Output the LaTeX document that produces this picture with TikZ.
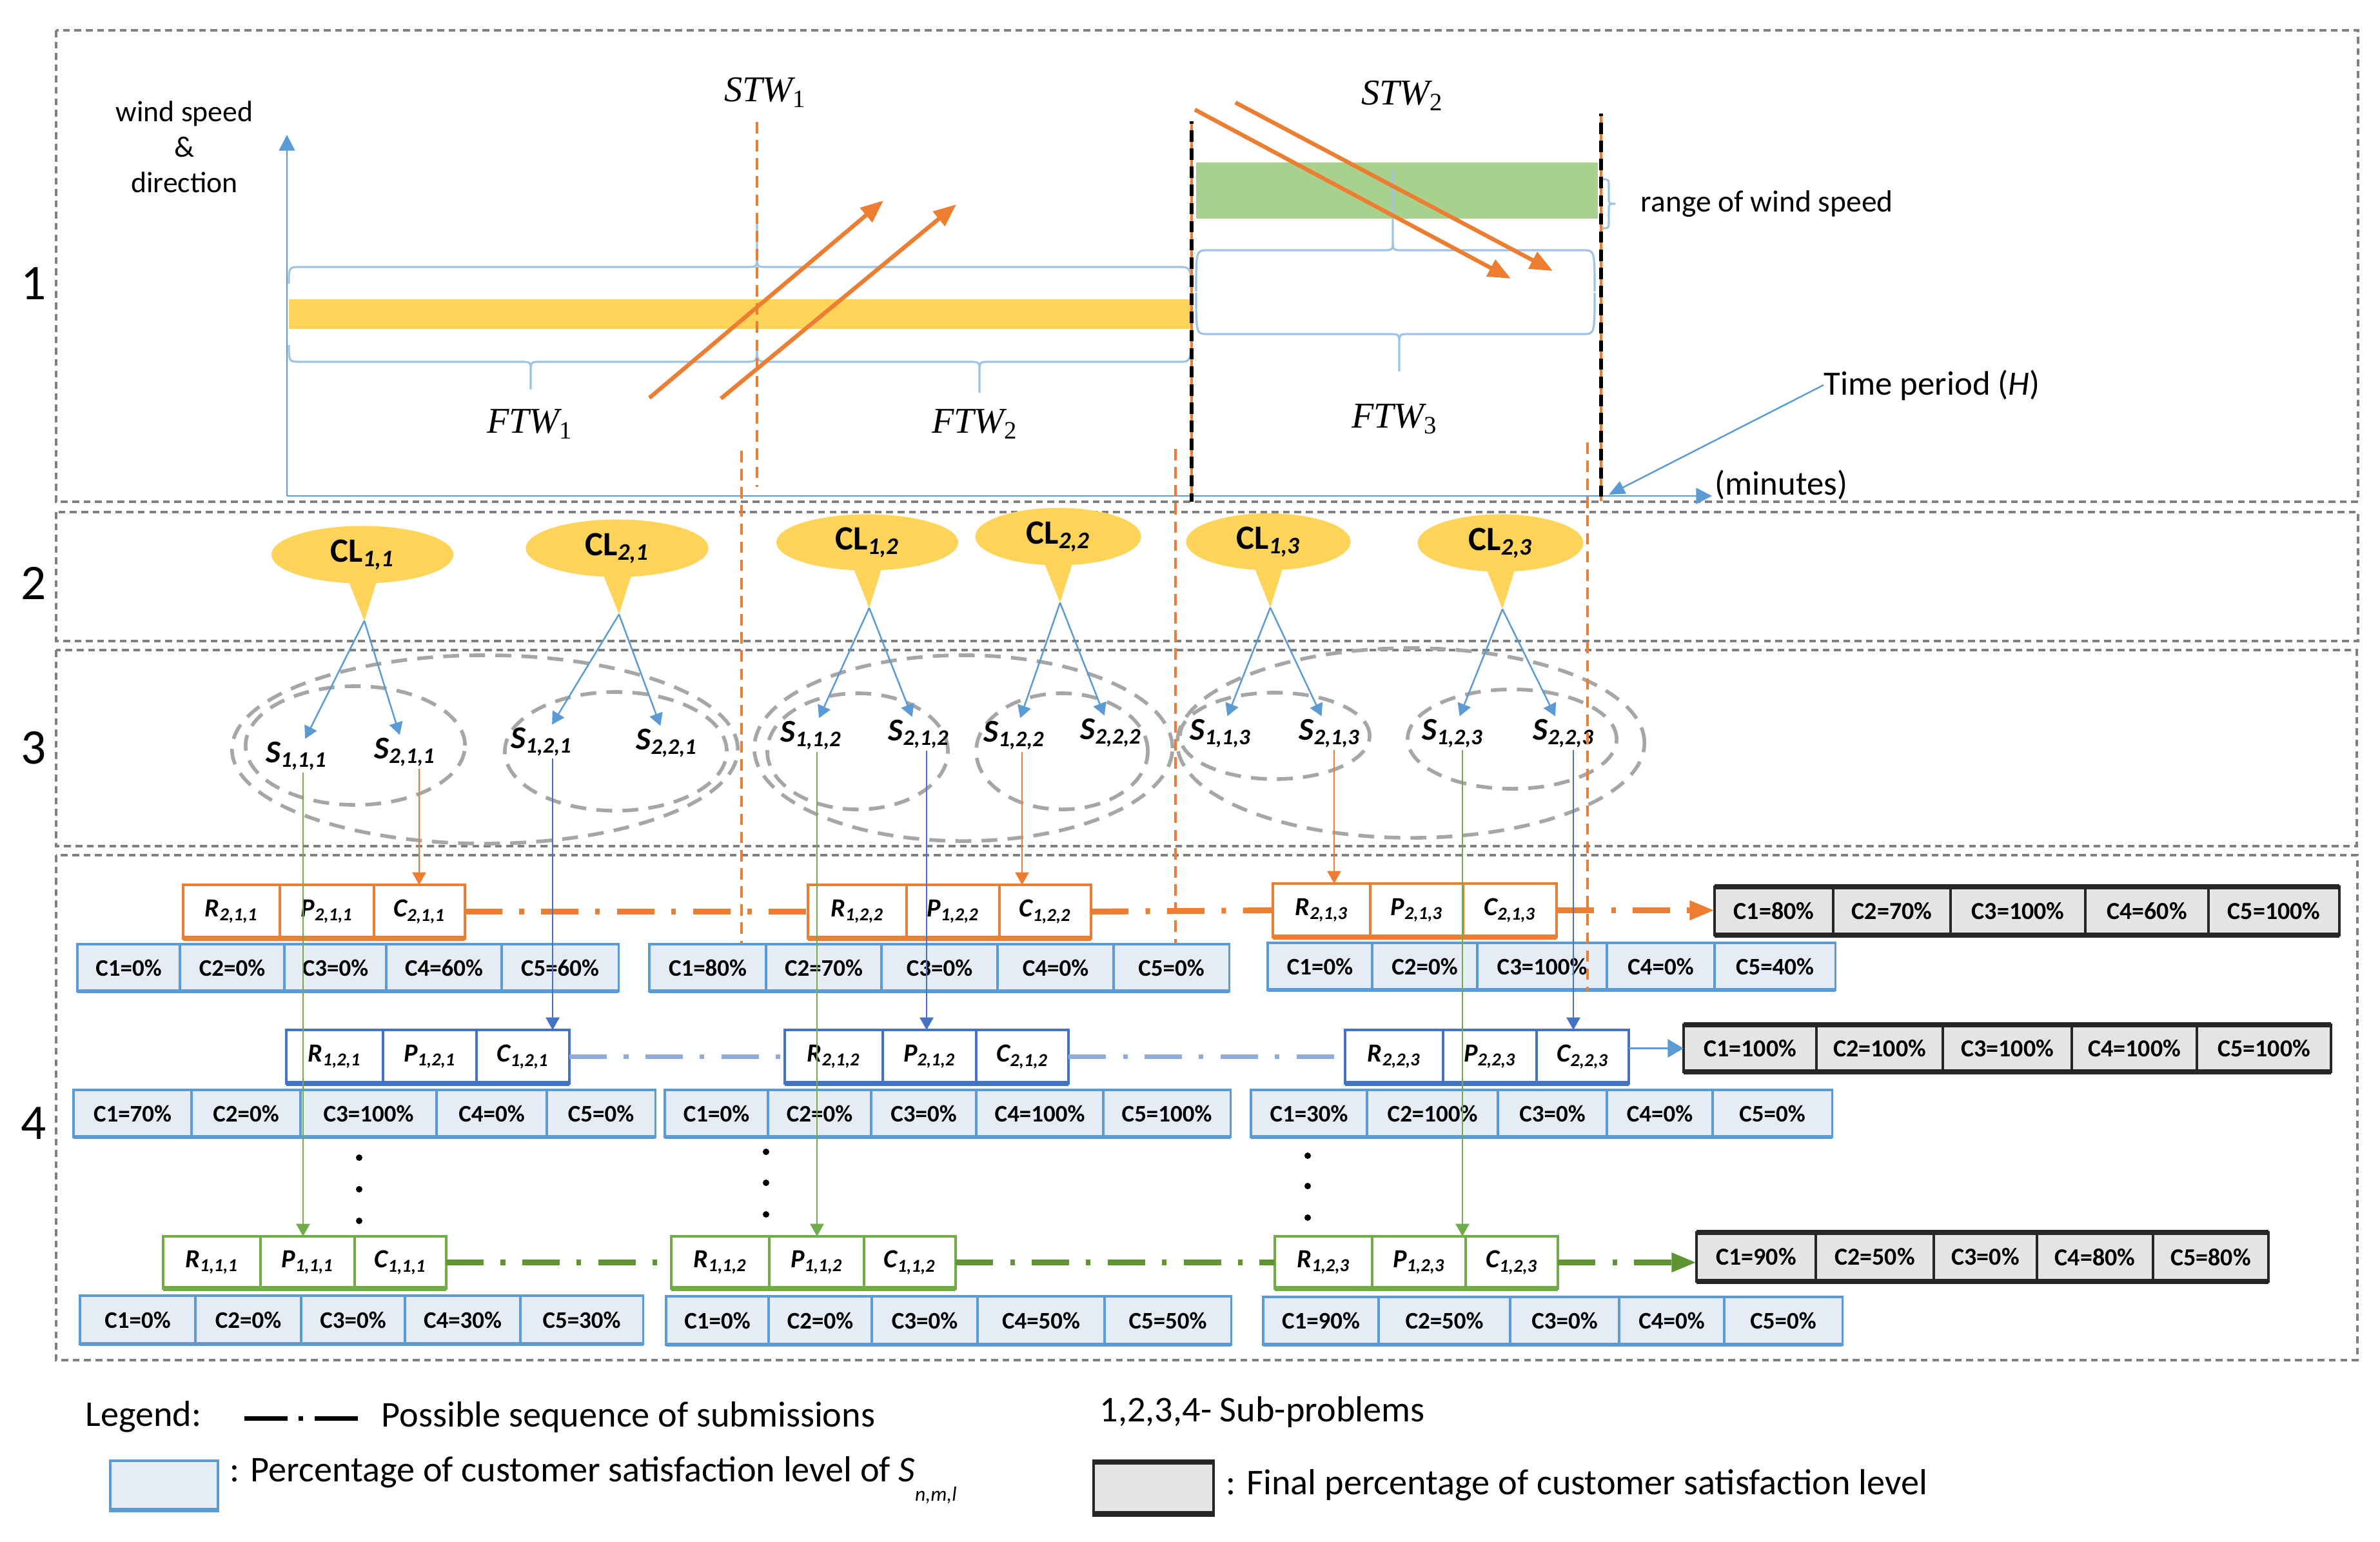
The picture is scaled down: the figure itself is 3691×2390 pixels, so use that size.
\documentclass[tikz,border=0pt]{standalone}
\usepackage{fontspec}
\setmainfont{Carlito}
\newfontfamily\srf{Liberation Serif}
\usetikzlibrary{arrows.meta,calc,shapes.geometric}

\definecolor{gold}{RGB}{255,212,89}
\definecolor{lgreen}{RGB}{169,209,142}
\definecolor{org}{RGB}{237,125,49}
\definecolor{bluA}{RGB}{91,155,213}
\definecolor{bluB}{RGB}{68,114,196}
\definecolor{bluC}{RGB}{143,170,220}
\definecolor{grnA}{RGB}{112,173,71}
\definecolor{grnB}{RGB}{94,148,50}
\definecolor{brcblue}{RGB}{157,195,230}
\definecolor{cfill}{RGB}{230,236,245}
\definecolor{gfill}{RGB}{228,228,228}
\definecolor{secgray}{RGB}{128,128,128}
\definecolor{ellgray}{RGB}{166,166,166}

\tikzset{
 sec/.style={draw=secgray, line width=0.9pt, dash pattern=on 3pt off 2pt},
 ell/.style={draw=ellgray, line width=1.6pt, dash pattern=on 7pt off 4.5pt},
 brc/.style={draw=brcblue, line width=0.9pt},
 wind/.style={draw=org, line width=1.8pt, -{Triangle[length=10pt,width=8pt]}},
 odash/.style={draw=org, line width=0.9pt, dash pattern=on 5pt off 3pt},
 kdash/.style={draw=black, line width=1.5pt, dash pattern=on 5pt off 3pt},
 axis/.style={draw=bluA, line width=0.8pt, -{Triangle[length=7pt,width=7pt]}},
 clnode/.style={ellipse, fill=gold, inner sep=0pt, outer sep=0pt, font=\fontsize{15}{18}\selectfont\bfseries},
 snode/.style={inner sep=1pt, font=\fontsize{14}{16}\selectfont\bfseries\itshape},
 cla/.style={draw=bluA, line width=0.7pt, -{Triangle[length=5.5pt,width=6pt]}},
 vcon/.style={line width=0.7pt, -{Triangle[length=5.5pt,width=6pt]}},
 rpc/.style={draw, line width=1.1pt, fill=white, inner sep=0pt, outer sep=0pt, anchor=north west, font=\fontsize{11.5}{13}\selectfont\bfseries\itshape},
 crow/.style={draw=bluA, line width=0.9pt, fill=cfill, inner sep=0pt, outer sep=0pt, anchor=north west, font=\fontsize{10.5}{12}\selectfont\bfseries},
 frow/.style={draw=black!85, line width=1pt, fill=gfill, inner sep=0pt, outer sep=0pt, anchor=north west, font=\fontsize{10.8}{12}\selectfont\bfseries},
 seq/.style={line width=2.6pt, dash pattern=on 16.5pt off 7.5pt on 2pt off 7.5pt},
 mlab/.style={inner sep=0pt, font=\fontsize{16}{19}\selectfont\srf\itshape},
 numlab/.style={inner sep=0pt, font=\fontsize{22}{26}\selectfont},
 txt/.style={inner sep=0pt, font=\fontsize{15}{18}\selectfont},
 legtxt/.style={inner sep=0pt, anchor=west, font=\fontsize{16}{19}\selectfont},
}

\newcommand\msub[1]{\raisebox{-0.35ex}{\upshape\fontsize{11}{12}\selectfont #1}}

\newcommand\cellrow[5]{%
  \foreach \xl/\xr/\tx [count=\ci] in {#5}{%
    \pgfmathsetmacro\cw{(\xr-\xl)*0.284528}%
    \pgfmathsetmacro\ch{(#4-#3)*0.284528}%
    \node[#2, minimum width=\cw pt, minimum height=\ch pt] (#1\ci) at (\xl,#3) {\tx};
  }}

\newcommand\rpctriple[9]{%
 \pgfmathsetmacro\hh{(#4-#3)*0.284528}%
 \pgfmathsetmacro\wa{(#6-#5)*0.284528}%
 \pgfmathsetmacro\wb{(#7-#6)*0.284528}%
 \pgfmathsetmacro\wc{(#8-#7)*0.284528}%
 \node[rpc,draw=#2,minimum width=\wa pt,minimum height=\hh pt] (#11) at (#5,#3) {R\textsubscript{#9}};
 \node[rpc,draw=#2,minimum width=\wb pt,minimum height=\hh pt] (#12) at (#6,#3) {P\textsubscript{#9}};
 \node[rpc,draw=#2,minimum width=\wc pt,minimum height=\hh pt] (#13) at (#7,#3) {C\textsubscript{#9}};
 \draw[line width=2.4pt,#2] (#11.south west) -- (#13.south east);
}

% x1, x2, y, yend-left, yend-right, xtip, ytip
\newcommand\wbrace[7]{%
 \draw[brc] (#1,#4) .. controls (#1,#3) .. (#1+18,#3) -- (#6-16,#3)
   .. controls (#6,#3) .. (#6,{#3+16*sign(#7-#3)}) -- (#6,#7) -- (#6,{#3+16*sign(#7-#3)})
   .. controls (#6,#3) .. (#6+16,#3) -- (#2-18,#3) .. controls (#2,#3) .. (#2,#5);}

\begin{document}
\begin{tikzpicture}[x=0.01cm,y=-0.01cm]
\fill[white] (0,0) rectangle (3691,2390);
\useasboundingbox (0,0) rectangle (3691,2390);

% ---------- section frames ----------
\draw[sec] (87,47) rectangle (3657,778);
\draw[sec] (87,794) rectangle (3657,994);
\draw[sec] (87,1008) rectangle (3655,1312);
\draw[sec] (87,1326) rectangle (3656,2109);

\node[numlab] (n1) at (52,440) {1};
\node[numlab] (n2) at (52,904) {2};
\node[numlab] (n3) at (52,1160) {3};
\node[numlab] (n4) at (52,1742) {4};

% ---------- section 1 ----------
\fill[gold] (448,464) rectangle (1848,510);
\fill[lgreen] (1855,252) rectangle (2478,339);

\wbrace{448}{1848}{414}{440}{487}{1174}{337}
\wbrace{448}{1174}{561}{535}{535}{823}{604}
\wbrace{1174}{1848}{561}{535}{487}{1519}{609}
\wbrace{1855}{2473}{388}{452}{452}{2160}{263}
\wbrace{1855}{2473}{518}{454}{454}{2170}{576}
\draw[brc] (2485,278) .. controls (2495,278) .. (2495,290) -- (2495,306)
  .. controls (2495,316) .. (2505,316) .. controls (2495,316) .. (2495,326)
  -- (2495,342) .. controls (2495,354) .. (2485,354);

\coordinate (orig) at (445,769);
\coordinate (ytop) at (445,209);
\coordinate (xend) at (2655,769);
\draw[axis] (orig) -- (ytop);
\draw[axis] (orig) -- (xend);

\node[inner sep=0pt, align=center, font=\fontsize{13}{15.6}\selectfont] (wsd) at (286,228) {wind speed\\\&\\direction};

\draw[odash] (1174,189) -- (1174,755);
\draw[odash] (1848,188) -- (1848,778);
\draw[kdash, dash phase=4pt] (1848,188) -- (1848,778);
\draw[odash] (2483,176) -- (2483,777);
\draw[kdash, dash phase=4pt] (2483,176) -- (2483,777);

\draw[wind] (1007,617) -- (1370,311);
\draw[wind] (1118,618) -- (1483,317);
\draw[wind] (1853,170) -- (2343,432);
\draw[wind] (1916,159) -- (2408,420);

\node[mlab] (stw1) at (1186,143) {STW\msub{1}};
\node[mlab] (stw2) at (2174,148) {STW\msub{2}};
\node[mlab] (ftw1) at (821,658) {FTW\msub{1}};
\node[mlab] (ftw2) at (1511,658) {FTW\msub{2}};
\node[mlab] (ftw3) at (2162,650) {FTW\msub{3}};

\node[inner sep=0pt, anchor=west, font=\fontsize{13.5}{16}\selectfont] (rws) at (2544,316) {range of wind speed};
\node[txt, anchor=west] (tp) at (2828,597) {Time period (\textit{H})};
\node[txt, anchor=west] (mins) at (2659,752) {(minutes)};
\coordinate (hend) at (2495,767);
\draw[draw=bluA, line width=0.7pt, -{Triangle[length=7pt,width=6pt]}] (tp.west) -- (hend);

% ---------- section 3 ellipses ----------
\draw[ell] (752,1162) ellipse [x radius=3.92cm, y radius=1.46cm];
\draw[ell] (551,1156) ellipse [x radius=1.70cm, y radius=0.92cm];
\draw[ell] (955,1165) ellipse [x radius=1.72cm, y radius=0.92cm];
\draw[ell] (1494,1160) ellipse [x radius=3.24cm, y radius=1.44cm];
\draw[ell] (1330,1165) ellipse [x radius=1.40cm, y radius=0.90cm];
\draw[ell] (1647,1165) ellipse [x radius=1.33cm, y radius=0.90cm];
\draw[ell] (2188,1152) ellipse [x radius=3.62cm, y radius=1.47cm];
\draw[ell] (1977,1141) ellipse [x radius=1.47cm, y radius=0.67cm];
\draw[ell] (2345,1146) ellipse [x radius=1.62cm, y radius=0.77cm];

% ---------- section 2 callouts ----------
\node[clnode, minimum width=2.82cm, minimum height=0.89cm] (cl11) at (562,860) {CL\textsubscript{\itshape 1,1}};
\node[clnode, minimum width=2.83cm, minimum height=0.89cm] (cl21) at (957,850) {CL\textsubscript{\itshape 2,1}};
\node[clnode, minimum width=2.82cm, minimum height=0.87cm] (cl12) at (1345,841) {CL\textsubscript{\itshape 1,2}};
\node[clnode, minimum width=2.57cm, minimum height=0.89cm] (cl22) at (1641,832) {CL\textsubscript{\itshape 2,2}};
\node[clnode, minimum width=2.55cm, minimum height=0.88cm] (cl13) at (1967,840) {CL\textsubscript{\itshape 1,3}};
\node[clnode, minimum width=2.57cm, minimum height=0.89cm] (cl23) at (2327,842) {CL\textsubscript{\itshape 2,3}};
\foreach \c in {11,21,12,22,13,23}{
  \coordinate (t\c) at ($(cl\c.south)+(3,58)$);
  \fill[gold] ($(cl\c.south)+(-25,-12)$) -- ($(cl\c.south)+(25,-12)$) -- (t\c) -- cycle;
}

% ---------- S labels ----------
\node[snode] (s111) at (460,1172) {S\textsubscript{1,1,1}};
\node[snode] (s211) at (628,1166) {S\textsubscript{2,1,1}};
\node[snode] (s121) at (840,1150) {S\textsubscript{1,2,1}};
\node[snode] (s221) at (1034,1152) {S\textsubscript{2,2,1}};
\node[snode] (s112) at (1258,1140) {S\textsubscript{1,1,2}};
\node[snode] (s212) at (1425,1138) {S\textsubscript{2,1,2}};
\node[snode] (s122) at (1573,1140) {S\textsubscript{1,2,2}};
\node[snode] (s222) at (1723,1136) {S\textsubscript{2,2,2}};
\node[snode] (s113) at (1893,1137) {S\textsubscript{1,1,3}};
\node[snode] (s213) at (2062,1137) {S\textsubscript{2,1,3}};
\node[snode] (s123) at (2253,1137) {S\textsubscript{1,2,3}};
\node[snode] (s223) at (2425,1137) {S\textsubscript{2,2,3}};

\draw[cla] (t11) -- (s111); \draw[cla] (t11) -- (s211);
\draw[cla] (t21) -- (s121); \draw[cla] (t21) -- (s221);
\draw[cla] (t12) -- (s112); \draw[cla] (t12) -- (s212);
\draw[cla] (t22) -- (s122); \draw[cla] (t22) -- (s222);
\draw[cla] (t13) -- (s113); \draw[cla] (t13) -- (s213);
\draw[cla] (t23) -- (s123); \draw[cla] (t23) -- (s223);

% ---------- section 4 ----------
% orange level
\rpctriple{o1}{org}{1372}{1455}{284}{434}{580}{721}{2,1,1}
\rpctriple{o2}{org}{1372}{1455}{1253}{1406}{1550}{1692}{1,2,2}
\rpctriple{o3}{org}{1370}{1453}{1974}{2125}{2269}{2414}{2,1,3}
\cellrow{co1}{crow}{1464}{1537}{120/279/C1=0\%, 279/441/C2=0\%, 441/599/C3=0\%, 599/778/C4=60\%, 778/959/C5=60\%}
\cellrow{co2}{crow}{1464}{1537}{1007/1188/C1=80\%, 1188/1367/C2=70\%, 1367/1547/C3=0\%, 1547/1727/C4=0\%, 1727/1906/C5=0\%}
\cellrow{co3}{crow}{1462}{1535}{1966/2128/C1=0\%, 2128/2291/C2=0\%, 2291/2492/C3=100\%, 2492/2659/C4=0\%, 2659/2846/C5=40\%}
\cellrow{fo}{frow}{1375}{1450}{2659/2843/C1=80\%, 2843/3025/C2=70\%, 3025/3234/C3=100\%, 3234/3425/C4=60\%, 3425/3628/C5=100\%}

% blue level
\rpctriple{b1}{bluB}{1597}{1680}{444}{594}{739}{883}{1,2,1}
\rpctriple{b2}{bluB}{1597}{1680}{1217}{1369}{1514}{1657}{2,1,2}
\rpctriple{b3}{bluB}{1597}{1680}{2086}{2238}{2383}{2526}{2,2,3}
\cellrow{cb1}{crow}{1690}{1763}{114/297/C1=70\%, 297/466/C2=0\%, 466/677/C3=100\%, 677/848/C4=0\%, 848/1016/C5=0\%}
\cellrow{cb2}{crow}{1690}{1763}{1031/1191/C1=0\%, 1191/1351/C2=0\%, 1351/1514/C3=0\%, 1514/1711/C4=100\%, 1711/1908/C5=100\%}
\cellrow{cb3}{crow}{1690}{1763}{1940/2120/C1=30\%, 2120/2323/C2=100\%, 2323/2492/C3=0\%, 2492/2656/C4=0\%, 2656/2841/C5=0\%}
\cellrow{fb}{frow}{1589}{1662}{2611/2817/C1=100\%, 2817/3013/C2=100\%, 3013/3213/C3=100\%, 3213/3407/C4=100\%, 3407/3615/C5=100\%}

% green level
\rpctriple{g1}{grnA}{1917}{1998}{253}{404}{550}{692}{1,1,1}
\rpctriple{g2}{grnA}{1917}{1998}{1041}{1193}{1340}{1482}{1,1,2}
\rpctriple{g3}{grnA}{1917}{1998}{1977}{2128}{2273}{2416}{1,2,3}
\cellrow{cg1}{crow}{2009}{2084}{124/303/C1=0\%, 303/467/C2=0\%, 467/628/C3=0\%, 628/807/C4=30\%, 807/997/C5=30\%}
\cellrow{cg2}{crow}{2010}{2085}{1033/1192/C1=0\%, 1192/1352/C2=0\%, 1352/1516/C3=0\%, 1516/1713/C4=50\%, 1713/1909/C5=50\%}
\cellrow{cg3}{crow}{2011}{2085}{1959/2138/C1=90\%, 2138/2342/C2=50\%, 2342/2511/C3=0\%, 2511/2674/C4=0\%, 2674/2857/C5=0\%}
\cellrow{fg}{frow}{1911}{1987}{2631/2816/C1=90\%, 2816/2999/C2=50\%, 2999/3159/C3=0\%, 3159/3339/C4=80\%, 3339/3518/C5=80\%}

\foreach \r in {co1,co2,co3,cb1,cb2,cb3,cg1,cg2,cg3}{
  \draw[bluA, line width=1.6pt] (\r1.south west) -- (\r5.south east);
}
\foreach \r in {fo,fb,fg}{
  \draw[black!85, line width=2.4pt] (\r1.north west) -- (\r5.north east);
  \draw[black!85, line width=2.4pt] (\r1.south west) -- (\r5.south east);
}

% sequences
\draw[seq, org] (o13.east) -- (o21.west);
\draw[seq, org] (o23.east) -- (o31.west);
\draw[seq, org, -{Triangle[length=11pt,width=8pt]}] (o33.east) -- (o33.east -| fo1.west);
\draw[seq, bluC, line width=2.2pt] (b13.east) -- (b21.west);
\draw[seq, bluC, line width=2.2pt] (b23.east) -- (b31.west);
\draw[draw=bluA, line width=0.8pt, -{Triangle[length=7pt,width=8pt]}] (b33.east |- fb1.west) -- (fb1.west);
\draw[seq, grnB] (g13.east) -- (g21.west);
\draw[seq, grnB] (g23.east) -- (g31.west);
\draw[seq, grnB, -{Triangle[length=11pt,width=8pt]}] (g33.east) -- (g33.east -| fg1.west);

% dots
\foreach \x/\y in {557/1795,557/1844,557/1893,1188/1786,1188/1834,1188/1883,2028/1792,2028/1839,2028/1888}{
  \fill (\x,\y) circle [radius=0.05cm];
}

% orange dashed time marks (lower parts)
\draw[odash] (1150,699) -- (1150,1463);
\draw[odash] (1823,696) -- (1823,1463);
\draw[odash] (2462,686) -- (2462,1538);

% vertical connectors S -> submissions
\coordinate (v111) at ($(s111.south)+(10,0)$);
\draw[vcon, grnA] (v111) -- (v111 |- g12.north);
\coordinate (v211) at ($(s211.south)+(22,0)$);
\draw[vcon, org] (v211) -- (v211 |- o13.north);
\coordinate (v121) at ($(s121.south)+(17,0)$);
\draw[vcon, bluB] (v121) -- (v121 |- b13.north);
\coordinate (v112) at ($(s112.south)+(9,0)$);
\draw[vcon, grnA] (v112) -- (v112 |- g22.north);
\coordinate (v212) at ($(s212.south)+(12,0)$);
\draw[vcon, bluB] (v212) -- (v212 |- b22.north);
\coordinate (v122) at ($(s122.south)+(12,0)$);
\draw[vcon, org] (v122) -- (v122 |- o23.north);
\coordinate (v213) at ($(s213.south)+(7,0)$);
\draw[vcon, org] (v213) -- (v213 |- o31.north);
\coordinate (v123) at ($(s123.south)+(15,0)$);
\draw[vcon, grnA] (v123) -- (v123 |- g32.north);
\coordinate (v223) at ($(s223.south)+(15,0)$);
\draw[vcon, bluB] (v223) -- (v223 |- b33.north);

% ---------- legend ----------
\node[legtxt] (leg) at (132,2197) {Legend:};
\coordinate (la) at (379,2199);
\coordinate (lb) at (563,2199);
\draw[black, line width=2pt, dash pattern=on 19pt off 5pt on 2pt off 5pt] (la) -- (lb);
\node[legtxt] (legseq) at (591,2197) {Possible sequence of submissions};
\node[draw=bluA, line width=1pt, fill=cfill, minimum width=1.67cm, minimum height=0.75cm, inner sep=0pt, anchor=north west] (lbox1) at (169,2263) {};
\draw[bluA, line width=1.8pt] (lbox1.south west) -- (lbox1.south east);
\node[legtxt] (legpct) at (356,2295) {: Percentage of customer satisfaction level of \textit{S}\raisebox{-1.1ex}{\fontsize{9}{10}\selectfont\itshape n,m,l}};
\node[legtxt] (legsub) at (1705,2189) {1,2,3,4- Sub-problems};
\node[draw=black!85, line width=1pt, fill=gfill, minimum width=1.86cm, minimum height=0.77cm, inner sep=0pt, anchor=north west] (lbox2) at (1694,2267) {};
\draw[black!85, line width=2.4pt] (lbox2.north west) -- (lbox2.north east);
\draw[black!85, line width=2.4pt] (lbox2.south west) -- (lbox2.south east);
\node[legtxt] (legfin) at (1901,2303) {: Final percentage of customer satisfaction level};
\end{tikzpicture}
\end{document}
